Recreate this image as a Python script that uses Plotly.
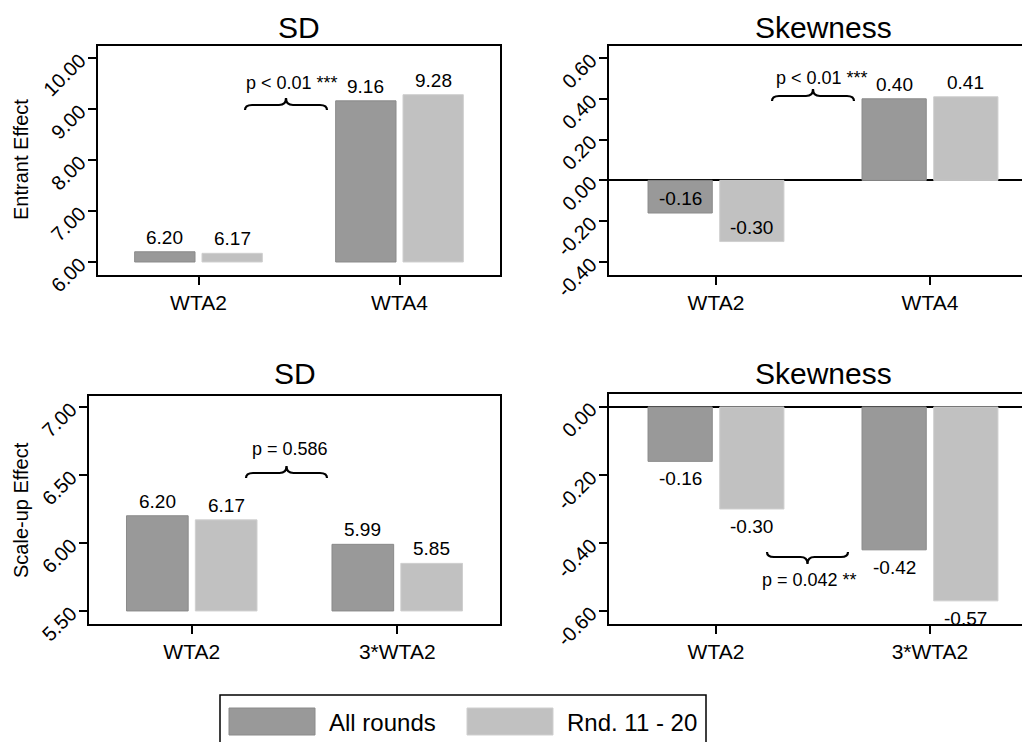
import numpy as np
import plotly.graph_objects as go

# ---------------- data ----------------
categories_top = ["WTA2", "WTA4"]
categories_bottom = ["WTA2", "3*WTA2"]
series_names = ["All rounds", "Rnd. 11 - 20"]

sd_entrant_all = [6.20, 9.16]
sd_entrant_late = [6.17, 9.28]
skew_entrant_all = [-0.16, 0.40]
skew_entrant_late = [-0.30, 0.41]

sd_scale_all = [6.20, 5.99]
sd_scale_late = [6.17, 5.85]
skew_scale_all = [-0.16, -0.42]
skew_scale_late = [-0.30, -0.57]

ticks_sd_entrant = [6.0, 7.0, 8.0, 9.0, 10.0]
ticks_skew_entrant = [-0.4, -0.2, 0.0, 0.2, 0.4, 0.6]
ticks_sd_scale = [5.5, 6.0, 6.5, 7.0]
ticks_skew_scale = [-0.6, -0.4, -0.2, 0.0]

p_texts = ["p < 0.01 ***", "p < 0.01 ***", "p = 0.586", "p = 0.042 **"]
panel_titles = ["SD", "Skewness", "SD", "Skewness"]
row_titles = ["Entrant Effect", "Scale-up Effect"]

# ---------------- styling ----------------
W, H = 1022, 742
FONT = "Liberation Sans, Arial, Helvetica, sans-serif"
DARK = "#999999"
DARK_LINE = "#8a8a8a"
LIGHT = "#c1c1c1"
LIGHT_LINE = "#cfcfcf"

def px(x):
    return x / W

def py(y):
    return 1 - y / H

fig = go.Figure()

panels = [
    dict(ax="x", ay="y", cats=categories_top, a=sd_entrant_all, b=sd_entrant_late,
         base=6.0, xd=(98, 500), yd=(46, 275), yr=[5.745, 10.235], ticks=ticks_sd_entrant,
         xr=[-0.5, 1.5], side="above", mirror_y=True),
    dict(ax="x2", ay="y2", cats=categories_top, a=skew_entrant_all, b=skew_entrant_late,
         base=0.0, xd=(609, 1022), yd=(46, 275), yr=[-0.464, 0.659], ticks=ticks_skew_entrant,
         xr=[-0.5, 1.43], side="above", mirror_y=False),
    dict(ax="x3", ay="y3", cats=categories_bottom, a=sd_scale_all, b=sd_scale_late,
         base=5.5, xd=(89, 500), yd=(396, 624), yr=[5.404, 7.081], ticks=ticks_sd_scale,
         xr=[-0.5, 1.5], side="above", mirror_y=True),
    dict(ax="x4", ay="y4", cats=categories_bottom, a=skew_scale_all, b=skew_scale_late,
         base=0.0, xd=(609, 1022), yd=(394, 624), yr=[-0.638, 0.038], ticks=ticks_skew_scale,
         xr=[-0.5, 1.43], side="below", mirror_y=False),
]

layout_axes = {}
annotations = []
shapes = []

for i, p in enumerate(panels):
    for vals, name, col, lcol in ((p["a"], series_names[0], DARK, DARK_LINE),
                                  (p["b"], series_names[1], LIGHT, LIGHT_LINE)):
        vals = np.array(vals)
        fig.add_trace(go.Bar(
            x=p["cats"], y=vals - p["base"], base=p["base"],
            name=name, showlegend=False,
            marker=dict(color=col, line=dict(color=lcol, width=1)),
            xaxis=p["ax"], yaxis=p["ay"], hoverinfo="skip",
        ))
    xk = "xaxis" + p["ax"][1:]
    yk = "yaxis" + p["ay"][1:]
    is_skew = p["base"] == 0.0
    layout_axes[xk] = dict(
        domain=[px(p["xd"][0]), px(p["xd"][1])], anchor=p["ay"],
        range=p["xr"], type="category", automargin=False,
        showline=True, linecolor="black", linewidth=2, mirror=True,
        ticks="outside", ticklen=8, tickwidth=1.5, tickcolor="black",
        ticklabelstandoff=0,
        tickfont=dict(family=FONT, size=21, color="black"),
        showgrid=False, zeroline=False, fixedrange=True,
    )
    layout_axes[yk] = dict(
        domain=[py(p["yd"][1]), py(p["yd"][0])], anchor=p["ax"],
        range=p["yr"], tickmode="array", tickvals=p["ticks"],
        ticktext=[f"{t:.2f}" for t in p["ticks"]],
        automargin=False,
        showline=True, linecolor="black", linewidth=2, mirror=p["mirror_y"],
        ticks="outside", ticklen=8, tickwidth=1.5, tickcolor="black",
        tickangle=-45, ticklabelstandoff=4,
        tickfont=dict(family=FONT, size=20, color="black"),
        showgrid=False, zeroline=is_skew, zerolinecolor="black", zerolinewidth=1.5,
        fixedrange=True,
    )
    for vals, offs in ((p["a"], -0.1675), (p["b"], 0.1675)):
        for k, v in enumerate(vals):
            if p["side"] == "above":
                ya, ys = "bottom", 2
            else:
                ya, ys = "top", -5
            annotations.append(dict(
                x=k + offs, y=v, xref=p["ax"], yref=p["ay"],
                text=f"{v:.2f}", showarrow=False, yanchor=ya, yshift=ys,
                font=dict(family=FONT, size=19, color="black"),
            ))

# panel titles
title_pos = [(299, 27), (823, 27), (295, 373), (823, 373)]
for t, (x, y) in zip(panel_titles, title_pos):
    annotations.append(dict(x=px(x), y=py(y), xref="paper", yref="paper",
                            text=t, showarrow=False, xanchor="center", yanchor="middle",
                            font=dict(family=FONT, size=30, color="black")))

# row titles
for t, y in zip(row_titles, (160, 510)):
    annotations.append(dict(x=px(21), y=py(y), xref="paper", yref="paper",
                            text=t, showarrow=False, textangle=-90,
                            xanchor="center", yanchor="middle",
                            font=dict(family=FONT, size=20, color="black")))

# braces with p-values
def brace(x0, x1, y_end, y_bar, y_tip):
    xc = (x0 + x1) / 2
    r = 7
    pts = [
        f"M {px(x0)},{py(y_end)}",
        f"Q {px(x0)},{py(y_bar)} {px(x0 + r)},{py(y_bar)}",
        f"L {px(xc - r)},{py(y_bar)}",
        f"Q {px(xc)},{py(y_bar)} {px(xc)},{py(y_tip)}",
        f"Q {px(xc)},{py(y_bar)} {px(xc + r)},{py(y_bar)}",
        f"L {px(x1 - r)},{py(y_bar)}",
        f"Q {px(x1)},{py(y_bar)} {px(x1)},{py(y_end)}",
    ]
    return dict(type="path", path=" ".join(pts), xref="paper", yref="paper",
                line=dict(color="black", width=2.2))

brace_specs = [
    ((245, 327, 110, 105, 98), (292, 83)),
    ((772, 854, 101, 96, 89), (822, 78)),
    ((246, 327, 478, 473, 466), (290, 449)),
    ((767, 848, 552, 557, 564), (809, 580)),
]
for (bx, (tx, ty)), txt in zip(brace_specs, p_texts):
    shapes.append(brace(*bx))
    annotations.append(dict(x=px(tx), y=py(ty), xref="paper", yref="paper",
                            text=txt, showarrow=False, xanchor="center", yanchor="middle",
                            font=dict(family=FONT, size=18, color="black")))

# legend (drawn manually; its bottom edge is cut off by the figure edge)
shapes.append(dict(
    type="path", xref="paper", yref="paper",
    path=(f"M {px(220)},{py(742)} L {px(220)},{py(695)} "
          f"L {px(706)},{py(695)} L {px(706)},{py(742)}"),
    line=dict(color="black", width=1.5),
))
for (sx, tx), name, col, lcol in (((229, 327), series_names[0], DARK, DARK_LINE),
                                  ((467, 565), series_names[1], LIGHT, LIGHT_LINE)):
    shapes.append(dict(type="rect", xref="paper", yref="paper",
                       x0=px(sx), x1=px(sx + 86), y0=py(708), y1=py(735),
                       line=dict(color=lcol, width=1), fillcolor=col))
    annotations.append(dict(x=px(tx), y=py(722), xref="paper", yref="paper",
                            text=name, showarrow=False, xanchor="left", yanchor="middle",
                            font=dict(family=FONT, size=24, color="black")))

fig.update_layout(
    width=W, height=H, autosize=False,
    margin=dict(l=0, r=0, t=0, b=0, pad=0, autoexpand=False),
    paper_bgcolor="white", plot_bgcolor="white",
    barmode="group", bargap=0.33, bargroupgap=0.104,
    showlegend=False,
    annotations=annotations, shapes=shapes,
    font=dict(family=FONT, color="black"),
    **layout_axes,
)

fig.write_html(
    "out.html",
    config={"displayModeBar": False},
    post_script="document.body.style.margin='0px';document.body.style.overflow='hidden';",
)
